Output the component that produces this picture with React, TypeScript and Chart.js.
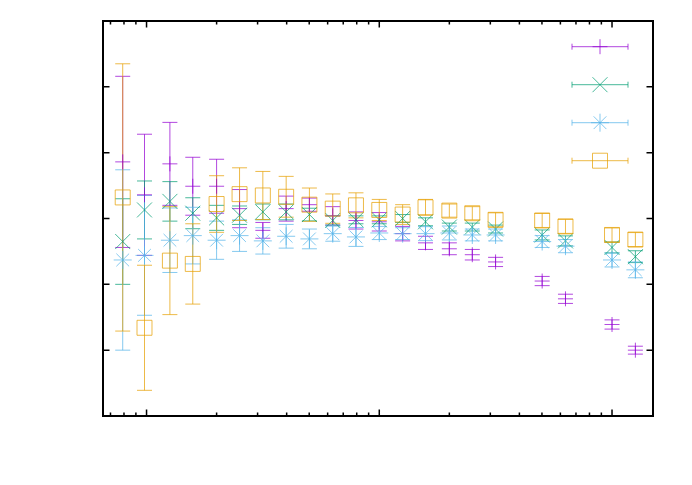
import { useEffect, useRef } from "react";
import { Chart, registerables, Plugin } from "chart.js";
import { drawPoint } from "chart.js/helpers";

Chart.register(...registerables);

// x positions (log axis), one per column
const xValues = [
  0.79, 0.98, 1.26, 1.58, 2.0, 2.51, 3.16, 3.98, 5.01, 6.31, 7.94, 10, 12.6,
  15.8, 20, 25.1, 31.6, 50.1, 63.1, 100, 126,
];

const purpleY = [
  3.86, 3.36, 3.83, 3.49, 3.49, 3.15, 2.82, 3.15, 3.21, 3.04, 2.97, 2.95, 2.77,
  2.63, 2.54, 2.45, 2.34, 2.05, 1.78, 1.39, 1.0,
];
const purpleErr = [
  1.3, 0.92, 0.63, 0.44, 0.41, 0.29, 0.12, 0.19, 0.1, 0.14, 0.13, 0.14, 0.11,
  0.1, 0.09, 0.08, 0.07, 0.07, 0.07, 0.07, 0.06,
];

const greenY = [
  2.65, 3.13, 3.26, 3.08, 3.01, 3.05, 3.1, 3.1, 3.06, 2.97, 2.98, 2.98, 3.0,
  2.95, 2.87, 2.87, 2.84, 2.75, 2.66, 2.56, 2.42,
];
const greenErr = [
  0.65, 0.44, 0.3, 0.235, 0.19, 0.14, 0.12, 0.12, 0.096, 0.07, 0.06, 0.06,
  0.06, 0.06, 0.06, 0.06, 0.06, 0.076, 0.076, 0.083, 0.09,
];

const blueY = [
  2.37, 2.44, 2.67, 2.74, 2.67, 2.74, 2.66, 2.73, 2.69, 2.77, 2.72, 2.78, 2.77,
  2.77, 2.78, 2.75, 2.75, 2.65, 2.58, 2.37, 2.22,
];
const blueErr = [
  1.37, 0.91, 0.49, 0.43, 0.29, 0.24, 0.2, 0.18, 0.15, 0.115, 0.144, 0.1, 0.09,
  0.106, 0.106, 0.09, 0.09, 0.09, 0.1, 0.106, 0.12,
];

const orangeY = [
  3.32, 1.34, 2.36, 2.31, 3.22, 3.37, 3.35, 3.33, 3.21, 3.15, 3.2, 3.13, 3.06,
  3.17, 3.12, 3.08, 2.98, 2.97, 2.88, 2.75, 2.68,
];
const orangeErr = [
  2.03, 0.95, 0.82, 0.61, 0.43, 0.4, 0.365, 0.31, 0.253, 0.223, 0.19, 0.16,
  0.15, 0.12, 0.1, 0.1, 0.106, 0.106, 0.106, 0.106, 0.106,
];

const seriesColors = [
  "rgba(148, 0, 211, 0.72)",
  "rgba(0, 158, 115, 0.72)",
  "rgba(86, 180, 233, 0.72)",
  "rgba(230, 159, 0, 0.72)",
];
const seriesY = [purpleY, greenY, blueY, orangeY];
const seriesErr = [purpleErr, greenErr, blueErr, orangeErr];
const seriesStyles = ["cross", "crossRot", "star", "rect"] as const;
const seriesRadius = [7.5, 10.6, 9, 10.6];

const X_MIN = 0.65;
const X_MAX = 150;
const Y_MIN = 0;
const Y_MAX = 6;

const CAP = 7.5;

const errorBars: Plugin<"scatter"> = {
  id: "errorBars",
  beforeDatasetsDraw(chart) {
    const { ctx } = chart;
    const xs = chart.scales.x;
    const ys = chart.scales.y;
    ctx.save();
    ctx.lineWidth = 1;
    seriesY.forEach((vals, i) => {
      ctx.strokeStyle = seriesColors[i];
      vals.forEach((v, j) => {
        const px = xs.getPixelForValue(xValues[j]);
        const top = ys.getPixelForValue(v + seriesErr[i][j]);
        const bot = ys.getPixelForValue(v - seriesErr[i][j]);
        ctx.beginPath();
        ctx.moveTo(px, top);
        ctx.lineTo(px, bot);
        ctx.moveTo(px - CAP, top);
        ctx.lineTo(px + CAP, top);
        ctx.moveTo(px - CAP, bot);
        ctx.lineTo(px + CAP, bot);
        ctx.stroke();
      });
    });
    ctx.restore();
  },
};

// gnuplot-like border with inward ticks on all four sides
const frame: Plugin<"scatter"> = {
  id: "frame",
  afterDraw(chart) {
    const { ctx, chartArea } = chart;
    const { left, right, top, bottom } = chartArea;
    const xs = chart.scales.x;
    const ys = chart.scales.y;
    ctx.save();
    ctx.strokeStyle = "#000";
    ctx.lineWidth = 1.5;
    ctx.beginPath();
    for (let e = -1; e <= 2; e++) {
      for (let m = 1; m <= 9; m++) {
        const v = m * Math.pow(10, e);
        if (v <= X_MIN || v >= X_MAX) continue;
        const px = xs.getPixelForValue(v);
        const len = m === 1 ? 6.5 : 3.5;
        ctx.moveTo(px, bottom);
        ctx.lineTo(px, bottom - len);
        ctx.moveTo(px, top);
        ctx.lineTo(px, top + len);
      }
    }
    for (let v = Y_MIN + 1; v < Y_MAX; v++) {
      const py = ys.getPixelForValue(v);
      ctx.moveTo(left, py);
      ctx.lineTo(left + 6.5, py);
      ctx.moveTo(right, py);
      ctx.lineTo(right - 6.5, py);
    }
    ctx.stroke();
    ctx.lineWidth = 2;
    ctx.strokeRect(left, top, right - left, bottom - top);
    ctx.restore();
  },
};

// key without titles: a short horizontal error bar with the point symbol
const key: Plugin<"scatter"> = {
  id: "key",
  afterDraw(chart) {
    const { ctx, chartArea } = chart;
    const x1 = chartArea.right - 81;
    const x2 = chartArea.right - 25;
    const cx = (x1 + x2) / 2;
    ctx.save();
    ctx.lineWidth = 1;
    ctx.fillStyle = "rgba(0,0,0,0)";
    seriesColors.forEach((color, i) => {
      const y = chartArea.top + 25.7 + 38 * i;
      ctx.strokeStyle = color;
      ctx.beginPath();
      ctx.moveTo(x1, y);
      ctx.lineTo(x2, y);
      ctx.moveTo(x1, y - 3);
      ctx.lineTo(x1, y + 3);
      ctx.moveTo(x2, y - 3);
      ctx.lineTo(x2, y + 3);
      ctx.stroke();
      drawPoint(
        ctx,
        {
          pointStyle: seriesStyles[i],
          radius: seriesRadius[i],
          rotation: 0,
          borderWidth: 1,
        },
        cx,
        y
      );
    });
    ctx.restore();
  },
};

const App = () => {
  const chartRef = useRef<Chart | null>(null);
  const chartCanvas = useRef<HTMLCanvasElement | null>(null);

  useEffect(() => {
    document.body.style.margin = "0";
    if (chartRef.current) {
      chartRef.current.destroy();
    }

    const context = chartCanvas.current?.getContext("2d");
    if (context) {
      chartRef.current = new Chart(context, {
        type: "scatter",
        data: {
          datasets: seriesY.map((vals, i) => ({
            label: "",
            data: vals.map((y, j) => ({ x: xValues[j], y })),
            pointStyle: seriesStyles[i],
            pointRadius: seriesRadius[i],
            pointHoverRadius: seriesRadius[i],
            borderColor: seriesColors[i],
            backgroundColor: "rgba(0,0,0,0)",
            borderWidth: 1,
            showLine: false,
            order: 3 - i,
          })),
        },
        options: {
          animation: false,
          responsive: true,
          maintainAspectRatio: false,
          events: [],
          layout: {
            padding: { left: 103, top: 21, right: 39, bottom: 69 },
          },
          plugins: {
            legend: { display: false },
            tooltip: { enabled: false },
          },
          scales: {
            x: { type: "logarithmic", min: X_MIN, max: X_MAX, display: false },
            y: { type: "linear", min: Y_MIN, max: Y_MAX, display: false },
          },
        },
        plugins: [errorBars, frame, key],
      });
    }

    return () => {
      if (chartRef.current) {
        chartRef.current.destroy();
        chartRef.current = null;
      }
    };
  }, []);

  return (
    <div style={{ width: 692, height: 485, background: "#fff" }}>
      <canvas ref={chartCanvas}></canvas>
    </div>
  );
};

export default App;
